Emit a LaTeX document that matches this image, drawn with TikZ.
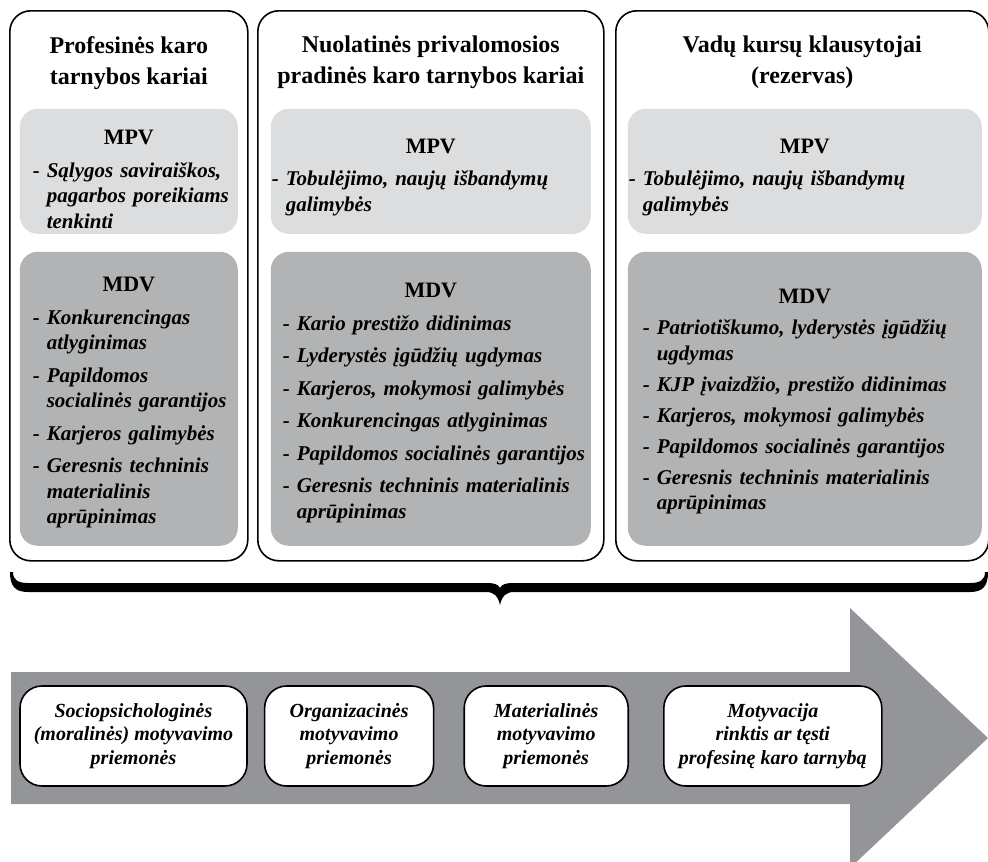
\documentclass[tikz,border=0pt]{standalone}
\usepackage{fontspec}
\setmainfont{Liberation Serif}
\usepackage{tikz}
\usetikzlibrary{positioning}

\definecolor{lightbox}{HTML}{DCDDDE}
\definecolor{darkbox}{HTML}{B1B3B5}
\definecolor{arrowgray}{HTML}{939598}

% heading of a box, the optional height pushes the block down
\newcommand{\boxhead}[2][0pt]{\noindent{\centering\upshape\fontsize{22}{25}\selectfont\rule{0pt}{#1}#2\par}}
\newcommand{\mitem}[1]{\par\setbox0=\hbox{-\ }\hangindent=\wd0 \hangafter=1 \noindent\box0 #1\par}

\begin{document}
\begin{tikzpicture}[x=1pt,y=-1pt,line width=1.6pt]
\tikzstyle{every node}=[inner sep=0pt]
\tikzstyle{column}=[draw,rounded corners=21pt,minimum height=550pt,anchor=north west]
\tikzstyle{title}=[font=\fontsize{24}{31}\selectfont\bfseries,align=center]
\tikzstyle{mpv}=[fill=lightbox,rounded corners=18pt,minimum height=125pt,anchor=north west,
                 font=\fontsize{21}{25.5}\selectfont\bfseries\itshape,
                 execute at begin node={\setlength{\parskip}{7pt}\raggedright\rightskip=-30pt plus 1fil}]
\tikzstyle{mdv}=[mpv,fill=darkbox,minimum height=294pt]
\tikzstyle{measure}=[draw,fill=white,rounded corners=22pt,minimum height=100pt,
                     font=\fontsize{20}{23.5}\selectfont\bfseries\itshape,align=center]
\path[use as bounding box,clip] (0,0) rectangle (988,862);

% big arrow
\fill[arrowgray] (11,672) -- (850,672) -- (850,608) -- (988,738) -- (850,868)
  -- (850,804) -- (11,804) -- cycle;

% brace
\fill (10,572) .. controls (10,586) and (15,592) .. (28,592) -- (486,592)
  .. controls (494,592) and (498,596) .. (500,605)
  .. controls (502,596) and (506,592) .. (514,592) -- (970,592)
  .. controls (983,592) and (988,586) .. (988,572) -- (985,572)
  .. controls (985,580) and (980,583) .. (970,583) -- (514,583)
  .. controls (506,583) and (502,584) .. (500,588)
  .. controls (498,584) and (494,583) .. (486,583) -- (28,583)
  .. controls (18,583) and (13,580) .. (13,572) -- cycle;

% columns
\path
node[column,minimum width=238pt] (c1) at (9,10) {}
node[column,minimum width=346pt] (c2) at (257,10) {}
node[column,minimum width=373pt] (c3) at (615,10) {};

\path
(c1.north) ++ (0,53) node[title] (t1) {Profesinės karo\\tarnybos kariai}
(c2.north) ++ (0,52) node[title] (t2) {Nuolatinės privalomosios\\pradinės karo tarnybos kariai}
(c3.north) ++ (0,52) node[title] (t3) {Vadų kursų klausytojai\\(rezervas)};

% MPV
\path
node[mpv,text width=192pt,inner xsep=13pt] (p1) at (19,108)
  {\boxhead[30.6pt]{MPV}\mitem{Sąlygos saviraiškos,\newline pagarbos poreikiams\newline tenkinti}}
node[mpv,text width=318pt,inner xsep=1pt] (p2) at (270,108)
  {\boxhead[26.6pt]{MPV}\mitem{Tobulėjimo, naujų išbandymų\newline galimybės}}
node[mpv,text width=352pt,inner xsep=1pt] (p3) at (627,108)
  {\boxhead[26.6pt]{MPV}\mitem{Tobulėjimo, naujų išbandymų\newline galimybės}};

% MDV
\path
node[mdv,text width=192pt,inner xsep=13pt] (d1) at (19,251)
  {\boxhead[22.6pt]{MDV}
   \mitem{Konkurencingas\newline atlyginimas}
   \mitem{Papildomos\newline socialinės garantijos}
   \mitem{Karjeros galimybės}
   \mitem{Geresnis techninis\newline materialinis\newline aprūpinimas}}
node[mdv,text width=296pt,inner xsep=12pt] (d2) at (270,251)
  {\boxhead[22.6pt]{MDV}
   \mitem{Kario prestižo didinimas}
   \mitem{Lyderystės įgūdžių ugdymas}
   \mitem{Karjeros, mokymosi galimybės}
   \mitem{Konkurencingas atlyginimas}
   \mitem{Papildomos socialinės garantijos}
   \mitem{Geresnis techninis materialinis\newline aprūpinimas}}
node[mdv,text width=324pt,inner xsep=15pt] (d3) at (627,251)
  {\setlength{\parskip}{5.5pt}\boxhead[20.6pt]{MDV}
   \mitem{Patriotiškumo, lyderystės įgūdžių\newline ugdymas}
   \mitem{KJP įvaizdžio, prestižo didinimas}
   \mitem{Karjeros, mokymosi galimybės}
   \mitem{Papildomos socialinės garantijos}
   \mitem{Geresnis techninis materialinis\newline aprūpinimas}};

% measures on the arrow
\node[measure,minimum width=227pt] (b1) at (133.5,736)
  {Sociopsichologinės\\(moralinės) motyvavimo\\priemonės};
\node[measure,minimum width=169pt,right=16pt of b1] (b2)
  {Organizacinės\\motyvavimo\\priemonės};
\node[measure,minimum width=164pt,right=29pt of b2] (b3)
  {Materialinės\\motyvavimo\\priemonės};
\node[measure,minimum width=218pt,right=34pt of b3] (b4)
  {Motyvacija\\rinktis ar tęsti\\profesinę karo tarnybą};
\end{tikzpicture}
\end{document}
